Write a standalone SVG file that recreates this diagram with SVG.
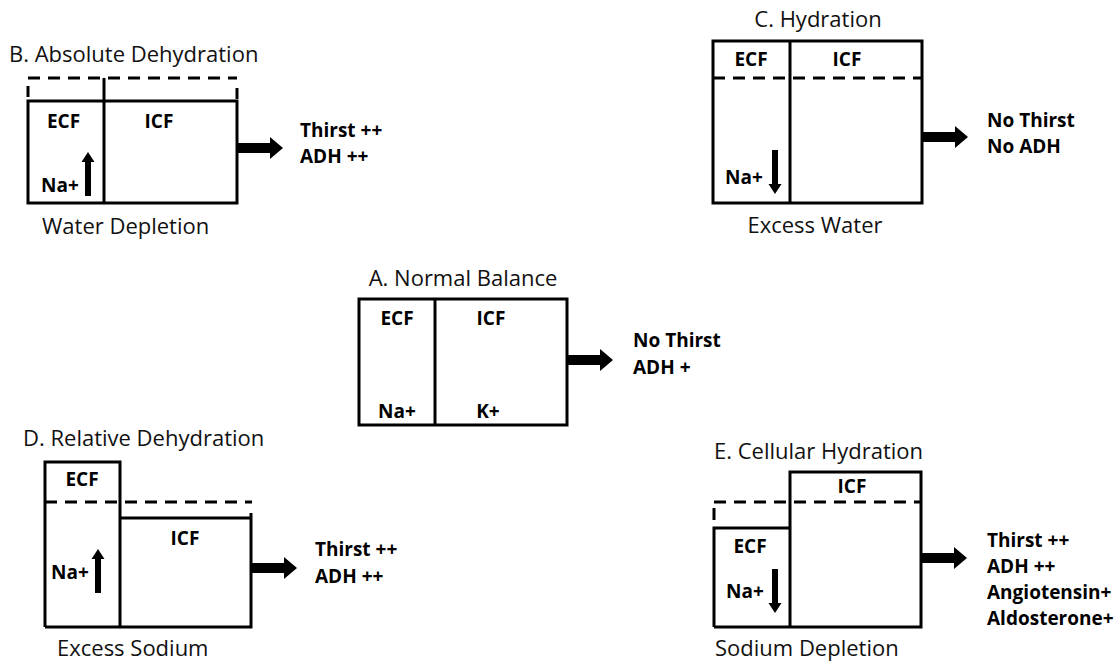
<svg xmlns="http://www.w3.org/2000/svg" xmlns:xlink="http://www.w3.org/1999/xlink" width="1119" height="663" viewBox="0 0 1119 663">
<style>
.box{fill:none;stroke:#000;stroke-width:3}
.dash{fill:none;stroke:#000;stroke-width:3;stroke-dasharray:12 8}
.t{font-family:'Open Sans','Liberation Sans',sans-serif;font-size:22px;fill:#111}
.b{font-family:'Open Sans','Liberation Sans',sans-serif;font-size:19px;font-weight:bold;fill:#000}
.m{text-anchor:middle}
</style>
<defs>
<path id="bigArrow" d="M0,-5 H33 V-11 L46,0 L33,11 V5 H0 Z" fill="#000"/>
<path id="upArrow" d="M-3,44 V10 H-6.5 L0,0 L6.5,10 H3 V44 Z" fill="#000"/>
<path id="downArrow" d="M-3,0 V34 H-6.5 L0,44 L6.5,34 H3 V0 Z" fill="#000"/>
</defs>
<rect width="1119" height="663" fill="#fff"/>

<g id="nodeB">
<text class="t" x="9" y="62">B. Absolute Dehydration</text>
<rect class="box" x="28" y="101" width="209" height="102"/>
<line class="box" x1="104" y1="101" x2="104" y2="203"/>
<line class="dash" x1="28" y1="78" x2="237" y2="78"/>
<line class="box" x1="28" y1="86" x2="28" y2="97"/>
<line class="box" x1="104" y1="78" x2="104" y2="101"/>
<line class="box" x1="237" y1="88" x2="237" y2="99"/>
<text class="b m" x="63.5" y="128">ECF</text>
<text class="b m" x="159" y="128">ICF</text>
<text class="b" x="41" y="192">Na+</text>
<use xlink:href="#upArrow" x="88" y="152"/>
<text class="b" x="300" y="137">Thirst ++</text>
<text class="b" x="300" y="163">ADH ++</text>
<text class="t" x="42" y="234">Water Depletion</text>
</g>

<g id="nodeC">
<text class="t m" x="818" y="27">C. Hydration</text>
<rect class="box" x="713" y="41" width="209" height="162"/>
<line class="box" x1="790" y1="41" x2="790" y2="203"/>
<line class="dash" x1="713" y1="78" x2="922" y2="78"/>
<text class="b m" x="751" y="66">ECF</text>
<text class="b m" x="847" y="66">ICF</text>
<text class="b" x="725" y="184">Na+</text>
<use xlink:href="#downArrow" x="775" y="150"/>
<text class="b" x="987" y="127">No Thirst</text>
<text class="b" x="987" y="153">No ADH</text>
<text class="t m" x="815" y="233">Excess Water</text>
</g>

<g id="nodeA">
<text class="t m" x="463" y="286">A. Normal Balance</text>
<rect class="box" x="359" y="299" width="208" height="126"/>
<line class="box" x1="435" y1="299" x2="435" y2="425"/>
<text class="b m" x="397" y="325">ECF</text>
<text class="b m" x="491" y="325">ICF</text>
<text class="b m" x="397" y="418">Na+</text>
<text class="b m" x="488" y="418">K+</text>
<text class="b" x="633" y="347">No Thirst</text>
<text class="b" x="633" y="374">ADH +</text>
</g>

<g id="nodeD">
<text class="t" x="23" y="446">D. Relative Dehydration</text>
<path class="box" d="M45,627 V462 H120 V627 M120,518 H251 M251,513 V627 H45"/>
<line class="dash" x1="45" y1="502" x2="252" y2="502"/>
<text class="b m" x="82" y="486">ECF</text>
<text class="b m" x="185" y="545">ICF</text>
<text class="b" x="51" y="579">Na+</text>
<use xlink:href="#upArrow" x="98" y="549"/>
<text class="b" x="315" y="556">Thirst ++</text>
<text class="b" x="315" y="583">ADH ++</text>
<text class="t" x="57" y="656">Excess Sodium</text>
</g>

<g id="nodeE">
<text class="t" x="714" y="459">E. Cellular Hydration</text>
<path class="box" d="M714,627 V528 H790 M790,627 V472 H921 V627 H714"/>
<line class="dash" x1="714" y1="502" x2="921" y2="502"/>
<line class="box" x1="714" y1="508" x2="714" y2="520"/>
<text class="b m" x="852" y="493">ICF</text>
<text class="b m" x="750" y="553">ECF</text>
<text class="b" x="726" y="598">Na+</text>
<use xlink:href="#downArrow" x="775" y="569"/>
<text class="b" x="987" y="547">Thirst ++</text>
<text class="b" x="987" y="573">ADH ++</text>
<text class="b" x="987" y="599">Angiotensin+</text>
<text class="b" x="987" y="625">Aldosterone+</text>
<text class="t" x="715" y="656">Sodium Depletion</text>
</g>

<g id="connectors">
<use xlink:href="#bigArrow" x="237" y="148"/>
<use xlink:href="#bigArrow" x="922" y="137"/>
<use xlink:href="#bigArrow" x="567" y="360"/>
<use xlink:href="#bigArrow" x="251" y="568"/>
<use xlink:href="#bigArrow" x="921" y="558"/>
</g>
</svg>
